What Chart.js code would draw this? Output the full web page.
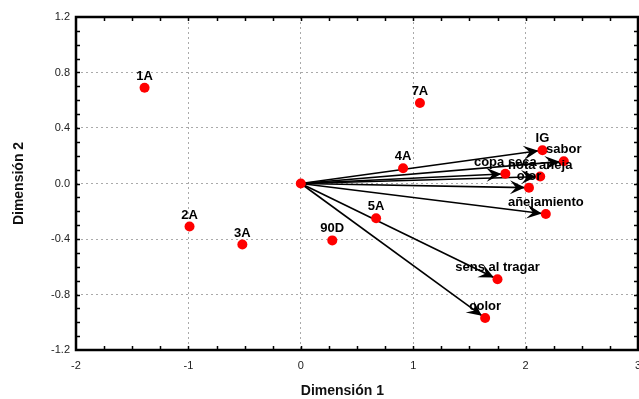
<!DOCTYPE html>
<html>
<head>
<meta charset="utf-8">
<script src="https://cdn.jsdelivr.net/npm/chart.js@4/dist/chart.umd.min.js"></script>
<style>
  html, body { margin: 0; padding: 0; background: #fff; }
  #wrap { width: 639px; height: 399px; }
</style>
</head>
<body>
<div id="wrap"><canvas id="biplot" width="639" height="399"></canvas></div>
<script>
// Samples (scores) on the first two dimensions
const sampleNames = ['1A', '2A', '3A', '90D', '5A', '4A', '7A'];
const sampleDim1  = [-1.39, -0.99, -0.52, 0.28, 0.67, 0.91, 1.06];
const sampleDim2  = [0.69, -0.31, -0.44, -0.41, -0.25, 0.11, 0.58];

// Sensory attributes (loadings) drawn as vectors from the origin
const attrNames = ['IG', 'sabor', 'copa seca', 'nota añeja', 'olor', 'añejamiento', 'sens al tragar', 'color'];
const attrDim1  = [2.15, 2.34, 1.82, 2.13, 2.03, 2.18, 1.75, 1.64];
const attrDim2  = [0.24, 0.16, 0.07, 0.05, -0.03, -0.22, -0.69, -0.97];

// Axis tick labels
const xTicks = [-2, -1, 0, 1, 2, 3];
const yTicks = [-1.2, -0.8, -0.4, 0.0, 0.4, 0.8, 1.2];

const FONT = '"Liberation Sans", Arial, sans-serif';
const RED = '#ff0000';

const samplePts = sampleDim1.map((x, i) => ({ x, y: sampleDim2[i] }));
const attrPts = attrDim1.map((x, i) => ({ x, y: attrDim2[i] }));

// Vectors from the origin to each attribute, with barbed arrowheads
const arrowPlugin = {
  id: 'arrows',
  beforeDatasetsDraw(chart) {
    const { ctx, scales: { x, y } } = chart;
    const ox = x.getPixelForValue(0), oy = y.getPixelForValue(0);
    ctx.save();
    ctx.strokeStyle = '#000';
    ctx.fillStyle = '#000';
    ctx.lineWidth = 1.6;
    attrPts.forEach(p => {
      const px = x.getPixelForValue(p.x), py = y.getPixelForValue(p.y);
      const ang = Math.atan2(py - oy, px - ox);
      const tipX = px - 4 * Math.cos(ang), tipY = py - 4 * Math.sin(ang);
      ctx.beginPath();
      ctx.moveTo(ox, oy);
      ctx.lineTo(tipX, tipY);
      ctx.stroke();
      // arrowhead
      ctx.save();
      ctx.translate(tipX, tipY);
      ctx.rotate(ang);
      ctx.beginPath();
      ctx.moveTo(0, 0);
      ctx.lineTo(-15, -7);
      ctx.lineTo(-9, 0);
      ctx.lineTo(-15, 7);
      ctx.closePath();
      ctx.fill();
      ctx.restore();
    });
    ctx.restore();
  }
};

// Bold names above every point
const labelPlugin = {
  id: 'pointLabels',
  afterDatasetsDraw(chart) {
    const { ctx, scales: { x, y } } = chart;
    ctx.save();
    ctx.font = 'bold 13px ' + FONT;
    ctx.fillStyle = '#000';
    ctx.textAlign = 'center';
    ctx.textBaseline = 'alphabetic';
    const put = (names, pts) => names.forEach((n, i) => {
      ctx.fillText(n, x.getPixelForValue(pts[i].x), y.getPixelForValue(pts[i].y) - 8);
    });
    put(sampleNames, samplePts);
    put(attrNames, attrPts);
    ctx.restore();
  }
};

// Black frame with small inward ticks on all four sides, plus the x-axis title
const framePlugin = {
  id: 'frame',
  afterDraw(chart) {
    const { ctx, chartArea: a, scales: { x, y } } = chart;
    ctx.save();
    ctx.strokeStyle = '#000';
    ctx.lineWidth = 1.5;
    ctx.beginPath();
    for (let v = x.min + 0.25; v < x.max - 1e-9; v += 0.25) {
      const px = Math.round(x.getPixelForValue(v)) + 0.5;
      ctx.moveTo(px, a.bottom); ctx.lineTo(px, a.bottom - 4);
      ctx.moveTo(px, a.top); ctx.lineTo(px, a.top + 4);
    }
    for (let v = y.min + 0.1; v < y.max - 1e-9; v += 0.1) {
      const py = Math.round(y.getPixelForValue(v)) + 0.5;
      ctx.moveTo(a.left, py); ctx.lineTo(a.left + 4, py);
      ctx.moveTo(a.right, py); ctx.lineTo(a.right - 4, py);
    }
    ctx.stroke();
    ctx.lineWidth = 2.5;
    ctx.strokeRect(a.left, a.top, a.right - a.left, a.bottom - a.top);

    ctx.font = 'bold 14px ' + FONT;
    ctx.fillStyle = '#111';
    ctx.textAlign = 'center';
    ctx.textBaseline = 'middle';
    ctx.fillText('Dimensión 1', x.getPixelForValue(0.37), 391);
    ctx.restore();
  }
};

const gridCommon = { color: '#aaaaaa', lineWidth: 1, drawTicks: false };

new Chart(document.getElementById('biplot'), {
  type: 'scatter',
  data: {
    datasets: [
      { label: 'muestras', data: samplePts },
      { label: 'atributos', data: attrPts },
      { label: 'origen', data: [{ x: 0, y: 0 }] }
    ]
  },
  options: {
    responsive: false,
    animation: false,
    devicePixelRatio: 1,
    layout: { autoPadding: false, padding: { top: 17, right: 1, left: 11, bottom: 0 } },
    elements: {
      point: { radius: 5, hoverRadius: 5, backgroundColor: RED, borderColor: RED, borderWidth: 0 }
    },
    plugins: { legend: { display: false }, tooltip: { enabled: false } },
    scales: {
      x: {
        type: 'linear',
        min: -2, max: 3,
        afterBuildTicks: s => { s.ticks = xTicks.map(v => ({ value: v })); },
        afterFit: s => { s.height = 49; s.paddingLeft = 0; s.paddingRight = 0; },
        grid: gridCommon,
        border: { display: false, dash: [2, 3] },
        ticks: {
          padding: 9,
          color: '#222',
          font: { family: FONT, size: 11 },
          maxRotation: 0,
          autoSkip: false,
          callback: v => String(v)
        },
        title: { display: false }
      },
      y: {
        type: 'linear',
        min: -1.2, max: 1.2,
        afterBuildTicks: s => { s.ticks = yTicks.map(v => ({ value: v })); },
        afterFit: s => { s.width = 65; s.paddingTop = 0; s.paddingBottom = 0; },
        grid: gridCommon,
        border: { display: false, dash: [2, 3] },
        ticks: {
          padding: 6,
          color: '#222',
          font: { family: FONT, size: 11 },
          callback: v => Number(v).toFixed(1)
        },
        title: {
          display: true,
          text: 'Dimensión 2',
          color: '#111',
          font: { family: FONT, size: 14, weight: 'bold' },
          padding: { top: 0, bottom: 12 }
        }
      }
    }
  },
  plugins: [arrowPlugin, labelPlugin, framePlugin]
});
</script>
</body>
</html>
